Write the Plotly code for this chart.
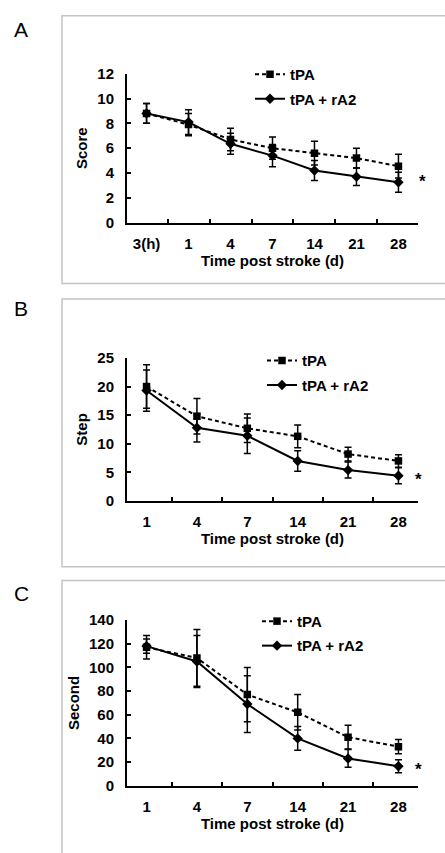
import plotly.graph_objects as go

# ---------------- data ----------------
cats_A = ["3(h)", "1", "4", "7", "14", "21", "28"]
tpa_A = [8.8, 7.9, 6.7, 6.0, 5.6, 5.2, 4.55]
tpa_A_err = [0.8, 0.9, 0.9, 0.9, 0.95, 0.8, 0.95]
ra2_A = [8.8, 8.1, 6.35, 5.4, 4.2, 3.7, 3.25]
ra2_A_err = [0.8, 1.0, 0.85, 0.9, 0.8, 0.7, 0.8]

cats_BC = ["1", "4", "7", "14", "21", "28"]
tpa_B = [20.0, 14.8, 12.7, 11.3, 8.2, 7.0]
tpa_B_err = [3.8, 3.1, 2.5, 2.0, 1.2, 1.1]
ra2_B = [19.3, 12.8, 11.4, 7.0, 5.4, 4.4]
ra2_B_err = [3.6, 2.5, 3.1, 1.8, 1.4, 1.4]

tpa_C = [117, 108, 77, 62, 41, 33]
tpa_C_err = [10, 24, 23, 15, 10, 6]
ra2_C = [118, 105, 69, 40, 23, 16.5]
ra2_C_err = [6, 22, 24, 10, 7.5, 5.5]

y_titles = ["Score", "Step", "Second"]
y_ranges = [[0, 12], [0, 25], [0, 140]]
y_dticks = [2, 5, 20]
star_y = [3.3, 3.8, 13.5]
star_x = [1.017, 1.0, 1.0]
panel_letters = ["A", "B", "C"]
x_title = "Time post stroke (d)"
name_tpa = "tPA"
name_ra2 = "tPA + rA2"

# ---------------- layout geometry (pixels) ----------------
W, H = 445, 853
def px_x(p): return p / W
def px_y(p): return 1 - p / H

x_dom = [px_x(127), px_x(418)]
y_doms = [[px_y(218), px_y(66)], [px_y(502), px_y(356)], [px_y(792.5), px_y(623.5)]]
frames = [(7, 280), (296, 569), (583, 870)]
letter_y = [21, 306, 596]
legend_pos = [(250, 50), (262, 342), (257, 608)]

FONT = "Arial, Liberation Sans, sans-serif"
bold = dict(family=FONT, size=15, color="black", weight="bold")

fig = go.Figure()

panels = [
    (cats_A, tpa_A, tpa_A_err, ra2_A, ra2_A_err),
    (cats_BC, tpa_B, tpa_B_err, ra2_B, ra2_B_err),
    (cats_BC, tpa_C, tpa_C_err, ra2_C, ra2_C_err),
]

for i, (cats, tp, tpe, ra, rae) in enumerate(panels):
    xa = "x" if i == 0 else f"x{i+1}"
    ya = "y" if i == 0 else f"y{i+1}"
    lg = "legend" if i == 0 else f"legend{i+1}"
    fig.add_trace(go.Scatter(
        x=cats, y=tp, name=name_tpa, xaxis=xa, yaxis=ya, legend=lg,
        legendgroup=f"t{i}", mode="lines+markers",
        line=dict(color="black", width=2, dash="4px,3px"),
        marker=dict(symbol="square", size=7.5, color="black"),
        error_y=dict(type="data", array=tpe, visible=True, color="black",
                     thickness=1.5, width=3.5),
    ))
    fig.add_trace(go.Scatter(
        x=cats, y=ra, name=name_ra2, xaxis=xa, yaxis=ya, legend=lg,
        legendgroup=f"r{i}", mode="lines+markers",
        line=dict(color="black", width=2),
        marker=dict(symbol="diamond", size=8, color="black"),
        error_y=dict(type="data", array=rae, visible=True, color="black",
                     thickness=1.5, width=3.5),
    ))

    axis_x = dict(
        domain=x_dom, type="category", anchor=ya,
        showline=True, linecolor="black", linewidth=2,
        ticks="inside", ticklen=4, tickwidth=2, tickcolor="black",
        tickson="boundaries", showgrid=False, zeroline=False,
        tickfont=bold, ticklabelstandoff=6,
        title=dict(text=x_title, font=bold, standoff=4),
        fixedrange=True,
    )
    axis_y = dict(
        domain=y_doms[i], anchor=xa, range=y_ranges[i], dtick=y_dticks[i],
        showline=True, linecolor="black", linewidth=2,
        ticks="inside", ticklen=4, tickwidth=2, tickcolor="black",
        showgrid=False, zeroline=False, tickfont=bold, ticklabelstandoff=8,
        title=dict(text=y_titles[i], font=bold, standoff=6),
        fixedrange=True,
    )
    fig.layout[f"xaxis{'' if i == 0 else i+1}"] = axis_x
    fig.layout[f"yaxis{'' if i == 0 else i+1}"] = axis_y

    lx, ly = legend_pos[i]
    fig.layout[lg] = dict(
        x=px_x(lx), y=px_y(ly), xanchor="left", yanchor="top",
        bgcolor="rgba(0,0,0,0)", borderwidth=0, font=bold,
        tracegroupgap=2, traceorder="grouped", itemwidth=30,
    )

    # panel frame
    y0, y1 = frames[i]
    fig.add_shape(type="rect", xref="paper", yref="paper",
                  x0=px_x(62), x1=1.02, y0=px_y(y1), y1=px_y(y0),
                  line=dict(color="#c4c4c4", width=1.5), layer="below")
    # panel letter
    fig.add_annotation(text=panel_letters[i], xref="paper", yref="paper",
                       x=px_x(21), y=px_y(letter_y[i]), showarrow=False,
                       xanchor="center", yanchor="middle",
                       font=dict(family=FONT, size=21, color="black"))
    # significance star
    fig.add_annotation(text="*", xref=f"{xa} domain", yref=ya,
                       x=star_x[i], y=star_y[i], xanchor="center", yanchor="middle",
                       showarrow=False,
                       font=dict(family=FONT, size=17, color="black", weight="bold"))

fig.update_layout(
    width=W, height=H, margin=dict(l=0, r=0, t=0, b=0),
    paper_bgcolor="white", plot_bgcolor="white", showlegend=True,
)

fig.write_html("out.html", config={"displayModeBar": False},
               post_script="document.body.style.margin='0px';")
